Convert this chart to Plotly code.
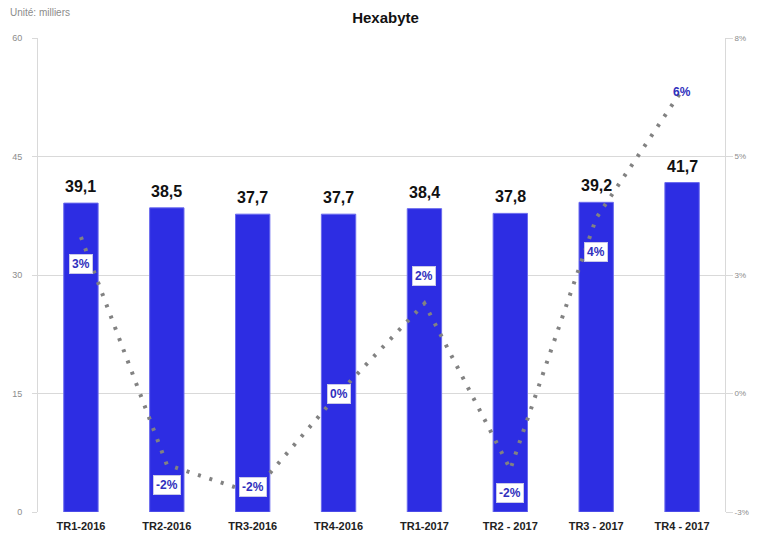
import plotly.graph_objects as go

categories = ["TR1-2016", "TR2-2016", "TR3-2016", "TR4-2016",
              "TR1-2017", "TR2 - 2017", "TR3 - 2017", "TR4 - 2017"]
volumes = [39.1, 38.5, 37.7, 37.7, 38.4, 37.8, 39.2, 41.7]
growth = [0.033, -0.015, -0.021, 0.0, 0.019, -0.016, 0.037, 0.064]
growth_labels = ["3%", "-2%", "-2%", "0%", "2%", "-2%", "4%", "6%"]
left_ticks = [0, 15, 30, 45, 60]
right_tickvals = [-0.025, 0.0, 0.025, 0.05, 0.075]
right_ticktext = ["-3%", "0%", "3%", "5%", "8%"]

# label offsets (pixels) for the growth labels, as placed in the original
label_shift = [-27, -20, 6, 0, 27, -24, -34, -2]

BAR = "#2d2de3"
LBL = "#3030bd"

fig = go.Figure()
fig.add_trace(go.Bar(
    x=categories, y=volumes, width=0.4,
    marker=dict(color=BAR, line=dict(color="#6a6aee", width=1)),
    hoverinfo="skip", showlegend=False,
))
fig.add_trace(go.Scatter(
    x=categories, y=growth, yaxis="y2", mode="lines",
    line=dict(color="#828282", width=4, dash="3px,9px"),
    hoverinfo="skip", showlegend=False,
))

annotations = []
for c, v in zip(categories, volumes):
    annotations.append(dict(
        x=c, y=v, xref="x", yref="y", text=f"{v:.1f}".replace(".", ","),
        showarrow=False, yanchor="bottom", yshift=6,
        font=dict(family="Liberation Sans, Arial, sans-serif", size=16,
                  color="#111111", weight="bold"),
    ))
for i, (c, g, t) in enumerate(zip(categories, growth, growth_labels)):
    boxed = i != len(categories) - 1
    annotations.append(dict(
        x=c, y=g, xref="x", yref="y2", text=t,
        showarrow=False, yshift=label_shift[i],
        bgcolor="white" if boxed else "rgba(0,0,0,0)",
        bordercolor="#c8c8e8" if boxed else "rgba(0,0,0,0)",
        borderwidth=1, borderpad=2,
        font=dict(family="Liberation Sans, Arial, sans-serif", size=12,
                  color=LBL, weight="bold"),
    ))
annotations.append(dict(
    x=-0.044, y=1.070, xref="paper", yref="paper", xanchor="left", yanchor="top",
    text="Unité: milliers", showarrow=False,
    font=dict(family="Liberation Sans, Arial, sans-serif", size=10, color="#8c8c8c"),
))

# the page body adds an 8px offset; size/margins compensate so the plot area
# lands at the same place as in the reference
fig.update_layout(
    width=755, height=533,
    margin=dict(l=30, r=38, t=30, b=29, autoexpand=False),
    paper_bgcolor="white", plot_bgcolor="white",
    title=dict(text="<b>Hexabyte</b>", x=0.5, xanchor="center", y=0.982, yanchor="middle",
               font=dict(family="Liberation Sans, Arial, sans-serif", size=15, color="#111111")),
    separators=", ",
    bargap=0.6,
    xaxis=dict(
        showgrid=False, showline=False, ticks="outside", ticklen=4, tickcolor="rgba(0,0,0,0)",
        tickfont=dict(family="Liberation Sans Narrow, Arial Narrow, Liberation Sans, sans-serif",
                      size=11, color="#222222", weight="bold"),
        fixedrange=True, automargin=False,
    ),
    yaxis=dict(
        range=[0, 60], tickvals=left_ticks, showgrid=True, gridcolor="#d9d9d9", gridwidth=1,
        showline=True, linecolor="#d9d9d9", linewidth=1,
        ticks="outside", ticklen=5, tickcolor="#d9d9d9", ticklabelstandoff=8,
        tickfont=dict(family="Liberation Sans, Arial, sans-serif", size=9, color="#8c8c8c"),
        zeroline=False, fixedrange=True, automargin=False,
    ),
    yaxis2=dict(
        overlaying="y", side="right", range=[-0.025, 0.075],
        tickvals=right_tickvals, ticktext=right_ticktext, showgrid=False,
        showline=True, linecolor="#d9d9d9", linewidth=1,
        ticks="outside", ticklen=7, tickcolor="#d9d9d9",
        tickfont=dict(family="Liberation Sans, Arial, sans-serif", size=8, color="#8c8c8c"),
        zeroline=False, fixedrange=True, automargin=False,
    ),
    annotations=annotations,
)

fig.write_html("out.html")
